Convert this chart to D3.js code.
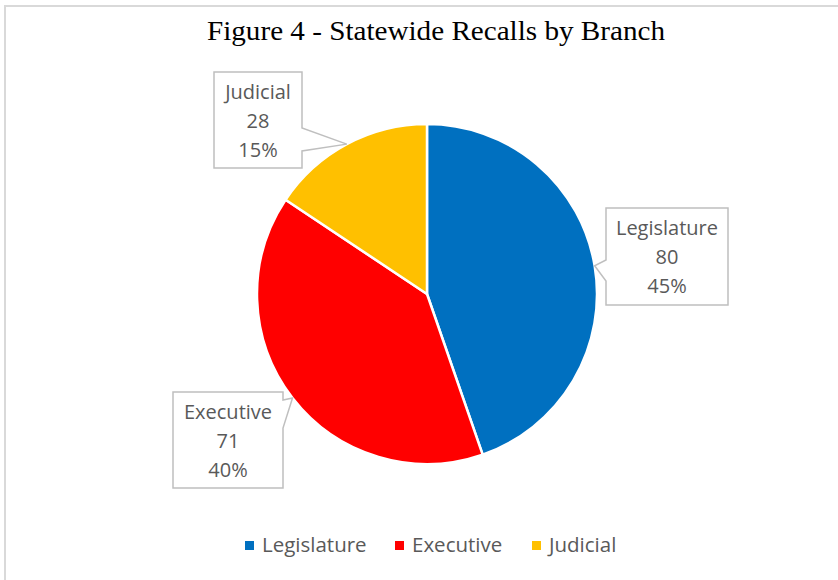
<!DOCTYPE html>
<html>
<head>
<meta charset="utf-8">
<script src="https://cdn.jsdelivr.net/npm/d3@7"></script>
<style>
  body { margin: 0; background: #fff; }
  svg { display: block; }
</style>
</head>
<body>
<div id="chart"></div>
<script>
// data
var branches = ["Legislature", "Executive", "Judicial"];
var recalls = [80, 71, 28];
var pctLabels = ["45%", "40%", "15%"];
var colors = ["#0070C0", "#FF0000", "#FFC000"];

var width = 838, height = 580;
var cx = 427, cy = 294, radius = 170;

var svg = d3.select("#chart").append("svg")
    .attr("width", width)
    .attr("height", height);

// chart frame
svg.append("rect")
    .attr("x", 5).attr("y", 6)
    .attr("width", 900).attr("height", 700)
    .attr("fill", "none")
    .attr("stroke", "#d9d9d9")
    .attr("stroke-width", 2);

svg.append("text")
    .attr("x", 436).attr("y", 40)
    .attr("text-anchor", "middle")
    .attr("font-family", "'Liberation Serif', 'Times New Roman', serif")
    .attr("font-size", "28px")
    .attr("textLength", 458)
    .attr("lengthAdjust", "spacingAndGlyphs")
    .attr("fill", "#000")
    .text("Figure 4 - Statewide Recalls by Branch");

var pie = d3.pie().sort(null).value(function(d) { return d; });
var arcs = pie(recalls);
var arc = d3.arc().innerRadius(0).outerRadius(radius);

var g = svg.append("g").attr("transform", "translate(" + cx + "," + cy + ")");

g.selectAll("path")
  .data(arcs)
  .enter()
  .append("path")
  .attr("d", arc)
  .attr("fill", function(d, i) { return colors[i]; })
  .attr("stroke", "#fff")
  .attr("stroke-width", 2.5)
  .attr("stroke-linejoin", "round");

// callout boxes: box rect, side of the pointer, pointer base on that side
var boxes = [
  { x0: 606, y0: 208, x1: 728, y1: 305, side: "left",  b0: 260, b1: 281 },
  { x0: 173, y0: 392, x1: 283, y1: 488, side: "right", b0: 400, b1: 428 },
  { x0: 214, y0: 72,  x1: 302, y1: 168, side: "right", b0: 128, b1: 151 }
];

function calloutPath(b, tip) {
  var p = d3.path();
  p.moveTo(b.x0, b.y0);
  p.lineTo(b.x1, b.y0);
  if (b.side == "right") {
    p.lineTo(b.x1, b.b0);
    p.lineTo(tip[0], tip[1]);
    p.lineTo(b.x1, b.b1);
  }
  p.lineTo(b.x1, b.y1);
  p.lineTo(b.x0, b.y1);
  if (b.side == "left") {
    p.lineTo(b.x0, b.b1);
    p.lineTo(tip[0], tip[1]);
    p.lineTo(b.x0, b.b0);
  }
  p.closePath();
  return p.toString();
}

var labelFont = "'Open Sans', 'Noto Sans', sans-serif";

arcs.forEach(function(d, i) {
  var a = (d.startAngle + d.endAngle) / 2;
  var tip = [cx + radius * Math.sin(a), cy - radius * Math.cos(a)];
  var b = boxes[i];
  svg.append("path")
      .attr("d", calloutPath(b, tip))
      .attr("fill", "#fff")
      .attr("stroke", "#bfbfbf")
      .attr("stroke-width", 1.5);
  var lines = [branches[i], String(recalls[i]), pctLabels[i]];
  var mx = (b.x0 + b.x1) / 2;
  svg.selectAll(null)
    .data(lines)
    .enter()
    .append("text")
    .attr("x", mx)
    .attr("y", function(t, j) { return b.y0 + 27 + j * 29; })
    .attr("text-anchor", "middle")
    .attr("font-family", labelFont)
    .attr("font-size", "20px")
    .attr("fill", "#595959")
    .text(function(t) { return t; });
});

// legend
var legendX = [245, 395, 532];
var lg = svg.selectAll("g.legend")
  .data(branches)
  .enter()
  .append("g")
  .attr("class", "legend")
  .attr("transform", function(d, i) { return "translate(" + legendX[i] + ",541)"; });

lg.append("rect")
  .attr("width", 9).attr("height", 9)
  .attr("fill", function(d, i) { return colors[i]; });

lg.append("text")
  .attr("x", 17).attr("y", 11)
  .attr("font-family", labelFont)
  .attr("font-size", "20.5px")
  .attr("fill", "#595959")
  .text(function(d) { return d; });
</script>
</body>
</html>
